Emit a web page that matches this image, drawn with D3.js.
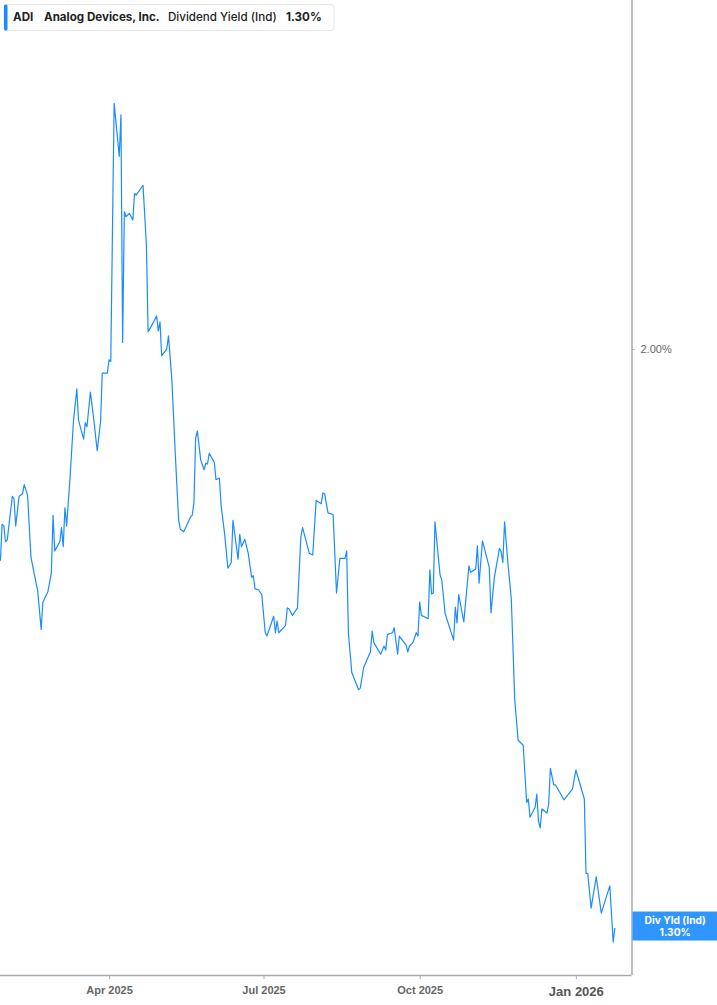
<!DOCTYPE html>
<html>
<head>
<meta charset="utf-8">
<script src="https://cdn.jsdelivr.net/npm/d3@7/dist/d3.min.js"></script>
<style>
  html, body { margin: 0; padding: 0; background: #fff; }
  body { width: 717px; height: 1005px; overflow: hidden; font-family: Inter, "Noto Sans", sans-serif; }
  .axis path, .axis line { stroke: #aaa; }
  .axis text { fill: #666; }
</style>
</head>
<body>
<div id="chart"></div>
<script>
// dividend yield (%) of ADI
var dates = [
  "2025-01-27","2025-01-28","2025-01-29","2025-01-30","2025-01-31","2025-02-03","2025-02-04","2025-02-05","2025-02-07","2025-02-09",
  "2025-02-10","2025-02-12","2025-02-14","2025-02-18","2025-02-20","2025-02-21","2025-02-24","2025-02-26","2025-02-27","2025-02-28",
  "2025-03-03","2025-03-04","2025-03-05","2025-03-06","2025-03-07","2025-03-09","2025-03-11","2025-03-13","2025-03-14","2025-03-17",
  "2025-03-18","2025-03-19","2025-03-21","2025-03-23","2025-03-25","2025-03-27","2025-03-28","2025-03-31","2025-04-01","2025-04-02",
  "2025-04-04","2025-04-07","2025-04-08","2025-04-09","2025-04-10","2025-04-11","2025-04-13","2025-04-15","2025-04-16","2025-04-17",
  "2025-04-21","2025-04-23","2025-04-24","2025-04-26","2025-04-29","2025-04-30","2025-05-01","2025-05-02","2025-05-05","2025-05-06",
  "2025-05-08","2025-05-10","2025-05-12","2025-05-13","2025-05-15","2025-05-19","2025-05-20","2025-05-21","2025-05-22","2025-05-23",
  "2025-05-25","2025-05-27","2025-05-28","2025-05-29","2025-05-30","2025-06-02","2025-06-03","2025-06-05","2025-06-06","2025-06-08",
  "2025-06-10","2025-06-12","2025-06-13","2025-06-16","2025-06-17","2025-06-18","2025-06-20","2025-06-22","2025-06-24","2025-06-25",
  "2025-06-26","2025-06-28","2025-06-30","2025-07-02","2025-07-03","2025-07-07","2025-07-08","2025-07-09","2025-07-10","2025-07-14",
  "2025-07-15","2025-07-16","2025-07-18","2025-07-21","2025-07-23","2025-07-24","2025-07-28","2025-07-30","2025-08-01","2025-08-04",
  "2025-08-05","2025-08-06","2025-08-08","2025-08-11","2025-08-13","2025-08-15","2025-08-18","2025-08-19","2025-08-20","2025-08-22",
  "2025-08-26","2025-08-27","2025-08-29","2025-09-02","2025-09-03","2025-09-04","2025-09-08","2025-09-10","2025-09-11","2025-09-12",
  "2025-09-15","2025-09-16","2025-09-18","2025-09-19","2025-09-23","2025-09-24","2025-09-25","2025-09-27","2025-09-29","2025-09-30",
  "2025-10-01","2025-10-02","2025-10-06","2025-10-07","2025-10-08","2025-10-09","2025-10-10","2025-10-13","2025-10-14","2025-10-16",
  "2025-10-21","2025-10-22","2025-10-23","2025-10-24","2025-10-27","2025-10-30","2025-10-31","2025-11-03","2025-11-04","2025-11-05",
  "2025-11-07","2025-11-11","2025-11-12","2025-11-14","2025-11-17","2025-11-18","2025-11-19","2025-11-20","2025-11-22","2025-11-24",
  "2025-11-26","2025-11-28","2025-12-01","2025-12-03","2025-12-04","2025-12-05","2025-12-08","2025-12-09","2025-12-10","2025-12-11",
  "2025-12-12","2025-12-15","2025-12-16","2025-12-17","2025-12-19","2025-12-20","2025-12-22","2025-12-25","2025-12-30","2026-01-01",
  "2026-01-06","2026-01-07","2026-01-08","2026-01-10","2026-01-13","2026-01-16","2026-01-21","2026-01-23","2026-01-24"
];
var yields = [
  1.744,1.788,1.786,1.767,1.769,1.822,1.819,1.786,1.822,1.825,
  1.836,1.823,1.748,1.707,1.661,1.694,1.707,1.729,1.799,1.756,
  1.767,1.784,1.761,1.808,1.786,1.844,1.912,1.952,1.914,1.891,
  1.911,1.906,1.948,1.915,1.877,1.912,1.971,1.971,1.987,1.985,
  2.297,2.233,2.283,2.008,2.166,2.160,2.164,2.156,2.188,2.186,
  2.198,2.126,2.021,2.028,2.040,2.022,2.033,1.992,2.000,2.016,
  1.963,1.874,1.793,1.782,1.779,1.797,1.799,1.814,1.892,1.901,
  1.866,1.854,1.862,1.861,1.874,1.863,1.842,1.844,1.811,1.778,
  1.735,1.742,1.793,1.746,1.776,1.761,1.770,1.753,1.724,1.726,
  1.710,1.709,1.703,1.657,1.653,1.677,1.657,1.671,1.657,1.666,
  1.687,1.686,1.678,1.687,1.773,1.784,1.753,1.751,1.817,1.813,
  1.826,1.825,1.802,1.800,1.705,1.747,1.747,1.756,1.657,1.609,
  1.588,1.590,1.615,1.634,1.659,1.645,1.631,1.641,1.636,1.655,
  1.657,1.663,1.631,1.653,1.642,1.634,1.641,1.645,1.657,1.653,
  1.694,1.678,1.674,1.733,1.704,1.705,1.791,1.727,1.721,1.680,
  1.648,1.688,1.669,1.703,1.670,1.738,1.730,1.734,1.762,1.717,
  1.768,1.736,1.681,1.724,1.759,1.755,1.742,1.791,1.741,1.697,
  1.576,1.527,1.521,1.452,1.456,1.434,1.446,1.462,1.429,1.421,
  1.444,1.439,1.450,1.493,1.473,1.473,1.466,1.455,1.468,1.491,
  1.456,1.366,1.366,1.324,1.362,1.318,1.351,1.283,1.300
];
var xTickDates = ["2025-04-01", "2025-07-01", "2025-10-01", "2026-01-01"];
var yTickValues = [2.00];
var ticker = "ADI";
var company = "Analog Devices, Inc.";
var metric = "Dividend Yield (Ind)";
var endLabel = "Div Yld (Ind)";

var W = 717, H = 1005;
var plotRight = 631.5, plotBottom = 975;
var blue = "#1a8cff";

var parse = d3.timeParse("%Y-%m-%d");
var data = dates.map(function(d, i) { return { date: parse(d), value: yields[i] }; });
var last = data[data.length - 1];

var svg = d3.select("#chart").append("svg")
  .attr("width", W)
  .attr("height", H);

var x = d3.scaleTime()
  .domain([new Date(2025, 0, 26, 18), new Date(2026, 1, 2, 19)])
  .range([0, plotRight]);

var y = d3.scaleLinear()
  .domain([1.2432, 2.422])
  .range([plotBottom, 0]);

svg.append("clipPath").attr("id", "clip")
  .append("rect").attr("x", 0).attr("y", 0).attr("width", plotRight).attr("height", plotBottom);

var line = d3.line()
  .x(function(d) { return x(d.date); })
  .y(function(d) { return y(d.value); });

svg.append("path")
  .datum(data)
  .attr("clip-path", "url(#clip)")
  .attr("fill", "none")
  .attr("stroke", blue)
  .attr("stroke-width", 1.2)
  .attr("stroke-linejoin", "round")
  .attr("d", line);

// bottom axis
var xAxis = svg.append("g")
  .attr("class", "axis")
  .attr("transform", "translate(0," + plotBottom + ")")
  .call(d3.axisBottom(x)
    .tickValues(xTickDates.map(parse))
    .tickSize(4)
    .tickPadding(6)
    .tickFormat(d3.timeFormat("%b %Y")));
xAxis.select(".domain").attr("d", "M0,0.5H" + plotRight).attr("stroke-width", 1.5);
xAxis.selectAll("text")
  .style("font-size", "11px")
  .style("font-weight", 600)
  .attr("dy", "0.85em");
xAxis.selectAll(".tick").filter(function(d) { return d.getMonth() === 0; })
  .select("text")
  .style("font-size", "13px")
  .style("font-weight", 700)
  .style("fill", "#555");

// right axis
var yAxis = svg.append("g")
  .attr("class", "axis")
  .attr("transform", "translate(" + plotRight + ",0)")
  .call(d3.axisRight(y)
    .tickValues(yTickValues)
    .tickSize(3)
    .tickPadding(6)
    .tickFormat(function(d) { return d.toFixed(2) + "%"; }));
yAxis.select(".domain").attr("d", "M0.5,0V" + plotBottom).attr("stroke-width", 1.5);
yAxis.selectAll(".tick line").attr("stroke", "#666");
yAxis.selectAll("text")
  .style("font-size", "11px")
  .style("fill", "#666");

// last value tag
var tagY = y(last.value);
svg.append("rect")
  .attr("x", plotRight + 1)
  .attr("y", tagY - 16.5)
  .attr("width", W - plotRight - 1)
  .attr("height", 29)
  .attr("fill", "#2f95ff");
var tag = svg.append("text")
  .attr("text-anchor", "middle")
  .style("font-size", "10.2px")
  .style("font-weight", 700)
  .style("fill", "#fff");
tag.append("tspan")
  .attr("x", (plotRight + W) / 2 + 1)
  .attr("y", tagY - 4)
  .text(endLabel);
tag.append("tspan")
  .attr("x", (plotRight + W) / 2 + 1)
  .attr("y", tagY + 7.5)
  .text(last.value.toFixed(2) + "%");

// legend
var legend = svg.append("g").attr("transform", "translate(4,4.5)");
legend.append("rect")
  .attr("width", 330)
  .attr("height", 26)
  .attr("rx", 3)
  .attr("fill", "#fff")
  .attr("stroke", "#e6e6e6");
legend.append("rect")
  .attr("width", 3.5)
  .attr("height", 26)
  .attr("rx", 1.5)
  .attr("fill", blue);
var legendText = legend.append("text")
  .attr("y", 16.5)
  .style("font-size", "11.6px")
  .style("fill", "#222");
legendText.append("tspan").attr("x", 9).style("font-weight", 700).text(ticker);
legendText.append("tspan").attr("x", 40).style("font-weight", 700).text(company);
legendText.append("tspan").attr("x", 164).style("font-weight", 500).text(metric);
legendText.append("tspan").attr("x", 282).style("font-weight", 700).text(last.value.toFixed(2) + "%");
</script>
</body>
</html>
